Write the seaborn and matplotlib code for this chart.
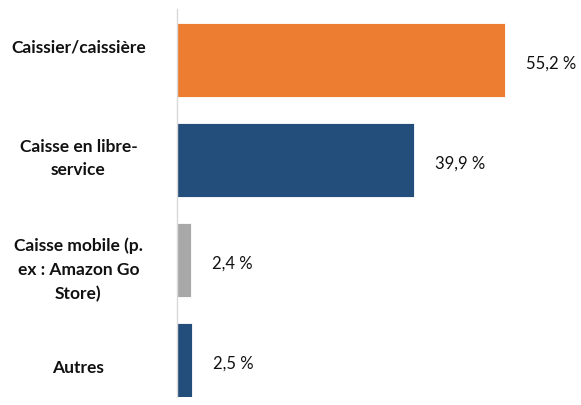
import matplotlib
matplotlib.use("Agg")
import matplotlib.pyplot as plt
import seaborn as sns
import pandas as pd

categories = ["Caissier/caissière", "Caisse en libre-\nservice",
              "Caisse mobile (p.\nex : Amazon Go\nStore)", "Autres"]
values = [55.2, 39.9, 2.4, 2.5]
value_labels = ["55,2 %", "39,9 %", "2,4 %", "2,5 %"]
colors = ["#ED7D31", "#234E7B", "#A8A8A8", "#234E7B"]

# vertical nudge (points) of each category label relative to its bar
label_nudge = [9.7, 1.8, -6.5, -4.7]

sns.set_style("white")
plt.rcParams["font.family"] = ["Lato", "DejaVu Sans"]

df = pd.DataFrame({"cat": categories, "val": values})

fig = plt.figure(figsize=(5.81, 4.06), dpi=100)
ax = fig.add_axes([177 / 581, 8 / 406, 1 - 177 / 581, 388 / 406])

sns.barplot(data=df, x="val", y="cat", hue="cat", palette=colors,
            legend=False, width=0.74, orient="h", ax=ax, saturation=1,
            edgecolor="white", linewidth=0.6)

ax.set_xlim(0, 68)
ax.set_ylim(3.37, -0.51)
ax.set_xlabel("")
ax.set_ylabel("")
ax.set_xticks([])

for s in ["top", "right", "bottom"]:
    ax.spines[s].set_visible(False)
ax.spines["left"].set_color("#D9D9D9")
ax.spines["left"].set_linewidth(1.0)

# boundary ticks between category bands; labels drawn separately
ax.set_yticks(range(len(categories)))
ax.set_yticklabels([""] * len(categories))
ax.tick_params(axis="y", which="major", length=0)
ax.set_yticks([-0.5, 0.5, 1.5, 2.5], minor=True)
ax.tick_params(axis="y", which="minor", length=3, color="#D9D9D9",
               direction="out", width=1.0)

for i, (cat, dy) in enumerate(zip(categories, label_nudge)):
    ax.annotate(cat, xy=(0, i), xycoords=("axes fraction", "data"),
                xytext=(-71, dy), textcoords="offset points",
                ha="center", va="center", multialignment="center",
                fontsize=12.5, fontweight="bold", color="#111111",
                linespacing=1.6, annotation_clip=False)

for i, (v, lab) in enumerate(zip(values, value_labels)):
    ax.annotate(lab, xy=(v, i), xytext=(15, -2), textcoords="offset points",
                va="center", ha="left", fontsize=12, color="#111111")

fig.savefig("out.png", dpi=100)
